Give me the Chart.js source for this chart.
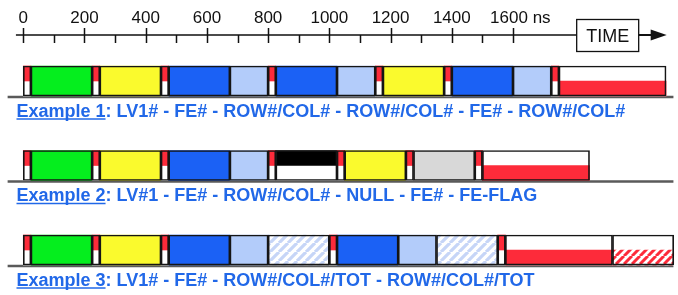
<!DOCTYPE html>
<html>
<head>
<meta charset="utf-8">
<script src="https://cdn.jsdelivr.net/npm/chart.js@4.4.1/dist/chart.umd.min.js"></script>
<style>
  html, body { margin: 0; padding: 0; background: #fff; }
  #timing { display: block; }
</style>
</head>
<body>
<canvas id="timing" width="678" height="295"></canvas>
<script>
/* ---------- data ---------- */

const TICK_VALUES = [0, 200, 400, 600, 800, 1000, 1200, 1400, 1600];
const TICK_LABELS = ["0", "200", "400", "600", "800", "1000", "1200", "1400", "1600"];
const MINOR_TICKS = [100, 300, 500, 700, 900, 1100, 1300, 1500];
const TIME_UNIT   = "ns";
const AXIS_TITLE  = "TIME";

const ROW_TITLES  = ["Example 1", "Example 2", "Example 3"];
const ROW_FORMATS = [
  ": LV1# - FE# - ROW#/COL# - ROW#/COL# - FE# - ROW#/COL#",
  ": LV#1 - FE# - ROW#/COL# - NULL - FE# - FE-FLAG",
  ": LV1# - FE# - ROW#/COL#/TOT - ROW#/COL#/TOT"
];

// word kinds and their boundaries in ns, one list per example
const ROW1_KINDS = ["flag", "lv1", "flag", "fe", "flag", "rc", "tot", "flag", "rc", "tot",
                    "flag", "fe", "flag", "rc", "tot", "flag", "trailer"];
const ROW1_EDGES = [0, 25, 225, 250, 450, 475, 675, 800, 825, 1025, 1150,
                    1175, 1375, 1400, 1600, 1725, 1750, 2100];

const ROW2_KINDS = ["flag", "lv1", "flag", "fe", "flag", "rc", "tot", "flag", "null",
                    "flag", "fe", "flag", "feflag", "flag", "trailer"];
const ROW2_EDGES = [0, 25, 225, 250, 450, 475, 675, 800, 825, 1025,
                    1050, 1250, 1275, 1475, 1500, 1850];

const ROW3_KINDS = ["flag", "lv1", "flag", "fe", "flag", "rc", "tot", "totHatch",
                    "flag", "rc", "tot", "totHatch", "flag", "trailer", "trailerHatch"];
const ROW3_EDGES = [0, 25, 225, 250, 450, 475, 675, 800, 1000,
                    1025, 1225, 1350, 1550, 1575, 1925, 2125];

const ROWS = [
  { kinds: ROW1_KINDS, edges: ROW1_EDGES },
  { kinds: ROW2_KINDS, edges: ROW2_EDGES },
  { kinds: ROW3_KINDS, edges: ROW3_EDGES }
];

/* ---------- layout / styles ---------- */

const X_MIN = -76, X_MAX = 2139;         // ns shown across the canvas
const AXIS_FROM = -24, AXIS_TO = 1808;   // ns span of the time line
const BASE_FROM = -50, BASE_TO = 2123;   // ns span of the row baselines
const FIRST_ROW_Y = 81, ROW_PITCH = 84.5, BOX_H = 30;
const HALF_OFF = (BOX_H / 4) / ROW_PITCH;
const BASE_OFF = (BOX_H / 2 + 1) / ROW_PITCH;

const RED = "#fd2b3a", GREEN = "#05ee1e", YELLOW = "#fafa2d", BLUE = "#1b61f5",
      LIGHT = "#b3ccfa", GREY = "#d8d8d8", BLACK = "#000000", WHITE = "#ffffff";
const TEXT_BLUE = "#2168e8";
const FONT = "'Liberation Sans', Arial, sans-serif";

function stripes(color, step, width) {
  const c = document.createElement("canvas");
  c.width = step; c.height = step;
  const g = c.getContext("2d");
  g.fillStyle = WHITE;
  g.fillRect(0, 0, step, step);
  g.strokeStyle = color;
  g.lineWidth = width;
  g.beginPath();
  for (let k = -1; k <= 1; k++) {
    g.moveTo(k * step, step);
    g.lineTo(k * step + step, 0);
  }
  g.stroke();
  return g.createPattern(c, "repeat");
}

const HATCH_BLUE = stripes("#c6d5f7", 9, 3.2);
const HATCH_RED  = stripes(RED, 8, 3);

const KIND_STYLE = {
  flag:         { fill: WHITE, top: RED },
  lv1:          { fill: GREEN },
  fe:           { fill: YELLOW },
  rc:           { fill: BLUE },
  tot:          { fill: LIGHT },
  totHatch:     { fill: HATCH_BLUE },
  null:         { fill: WHITE, top: BLACK },
  feflag:       { fill: GREY },
  trailer:      { fill: WHITE, bottom: RED },
  trailerHatch: { fill: WHITE, bottom: HATCH_RED }
};

/* ---------- build datasets ---------- */

const fills = [], fillColors = [];
const halves = [], halfColors = [];
const baselines = [];

ROWS.forEach((row, r) => {
  row.kinds.forEach((kind, i) => {
    const span = [row.edges[i], row.edges[i + 1]];
    const st = KIND_STYLE[kind];
    fills.push({ x: span, y: r });
    fillColors.push(st.fill);
    if (st.top) { halves.push({ x: span, y: r - HALF_OFF }); halfColors.push(st.top); }
    if (st.bottom) { halves.push({ x: span, y: r + HALF_OFF }); halfColors.push(st.bottom); }
  });
  baselines.push({ x: [BASE_FROM, BASE_TO], y: r + BASE_OFF });
});

/* ---------- axis + labels ---------- */

const timingDecor = {
  id: "timingDecor",
  afterDraw(chart) {
    const ctx = chart.ctx;
    const xs = chart.scales.x, ys = chart.scales.y;
    const axisY = 35;
    ctx.save();

    // time line
    ctx.strokeStyle = "#111";
    ctx.lineWidth = 1.5;
    const left = xs.getPixelForValue(AXIS_FROM), right = xs.getPixelForValue(AXIS_TO);
    ctx.beginPath();
    ctx.moveTo(left, axisY); ctx.lineTo(right, axisY);
    TICK_VALUES.forEach(v => {
      const px = Math.round(xs.getPixelForValue(v)) + 0.5;
      ctx.moveTo(px, axisY - 7); ctx.lineTo(px, axisY + 8);
    });
    MINOR_TICKS.forEach(v => {
      const px = Math.round(xs.getPixelForValue(v)) + 0.5;
      ctx.moveTo(px, axisY); ctx.lineTo(px, axisY + 8);
    });
    ctx.stroke();

    // tick labels (the last one carries the unit)
    ctx.fillStyle = "#111";
    ctx.font = "17px " + FONT;
    ctx.textBaseline = "alphabetic";
    ctx.textAlign = "left";
    TICK_LABELS.forEach((t, i) => {
      const px = xs.getPixelForValue(TICK_VALUES[i]);
      const w = ctx.measureText(t).width;
      const last = i === TICK_LABELS.length - 1;
      const x0 = px - w / 2 - (last ? 4 : 0);
      ctx.fillText(last ? t + " " + TIME_UNIT : t, x0, 23);
    });

    // TIME box and arrow
    ctx.lineWidth = 1.3;
    ctx.strokeRect(right, 19.5, 62, 32);
    ctx.font = "18px " + FONT;
    ctx.textAlign = "center";
    ctx.fillText(AXIS_TITLE, right + 31, 42);
    ctx.lineWidth = 2;
    ctx.beginPath();
    ctx.moveTo(right + 62, axisY); ctx.lineTo(right + 76, axisY);
    ctx.stroke();
    ctx.beginPath();
    ctx.moveTo(right + 74, axisY - 5.5);
    ctx.lineTo(right + 90, axisY);
    ctx.lineTo(right + 74, axisY + 5.5);
    ctx.closePath();
    ctx.fill();

    // example captions
    ctx.font = "bold 18px " + FONT;
    ctx.textAlign = "left";
    ctx.fillStyle = TEXT_BLUE;
    ctx.strokeStyle = TEXT_BLUE;
    ROW_TITLES.forEach((title, r) => {
      const base = ys.getPixelForValue(r) + BOX_H / 2 + 20.5;
      const x0 = 16.5;
      const w = ctx.measureText(title).width;
      ctx.fillText(title, x0, base);
      ctx.fillText(ROW_FORMATS[r], x0 + w, base);
      ctx.lineWidth = 1.5;
      ctx.beginPath();
      ctx.moveTo(x0, base + 2.5); ctx.lineTo(x0 + w, base + 2.5);
      ctx.stroke();
    });
    ctx.restore();
  }
};

/* ---------- chart ---------- */

new Chart(document.getElementById("timing"), {
  type: "bar",
  data: {
    datasets: [
      { label: "baseline", data: baselines, backgroundColor: "#5a5a5a",
        barThickness: 2, borderWidth: 0, order: 5 },
      { label: "words", data: fills, backgroundColor: fillColors,
        barThickness: BOX_H, borderWidth: 0, order: 4 },
      { label: "halves", data: halves, backgroundColor: halfColors,
        barThickness: BOX_H / 2, borderWidth: 0, order: 3 },
      { label: "outline", data: fills, backgroundColor: "rgba(0,0,0,0)",
        borderColor: "#151515", borderWidth: 1, barThickness: BOX_H,
        borderSkipped: false, order: 1 }
    ]
  },
  options: {
    indexAxis: "y",
    responsive: false,
    animation: false,
    grouped: false,
    layout: { padding: 0 },
    scales: {
      x: { type: "linear", min: X_MIN, max: X_MAX, display: false, offset: false },
      y: { type: "linear", reverse: true, offset: false,
           min: -FIRST_ROW_Y / ROW_PITCH, max: (295 - FIRST_ROW_Y) / ROW_PITCH, display: false }
    },
    plugins: { legend: { display: false }, tooltip: { enabled: false } }
  },
  plugins: [timingDecor]
});
</script>
</body>
</html>
